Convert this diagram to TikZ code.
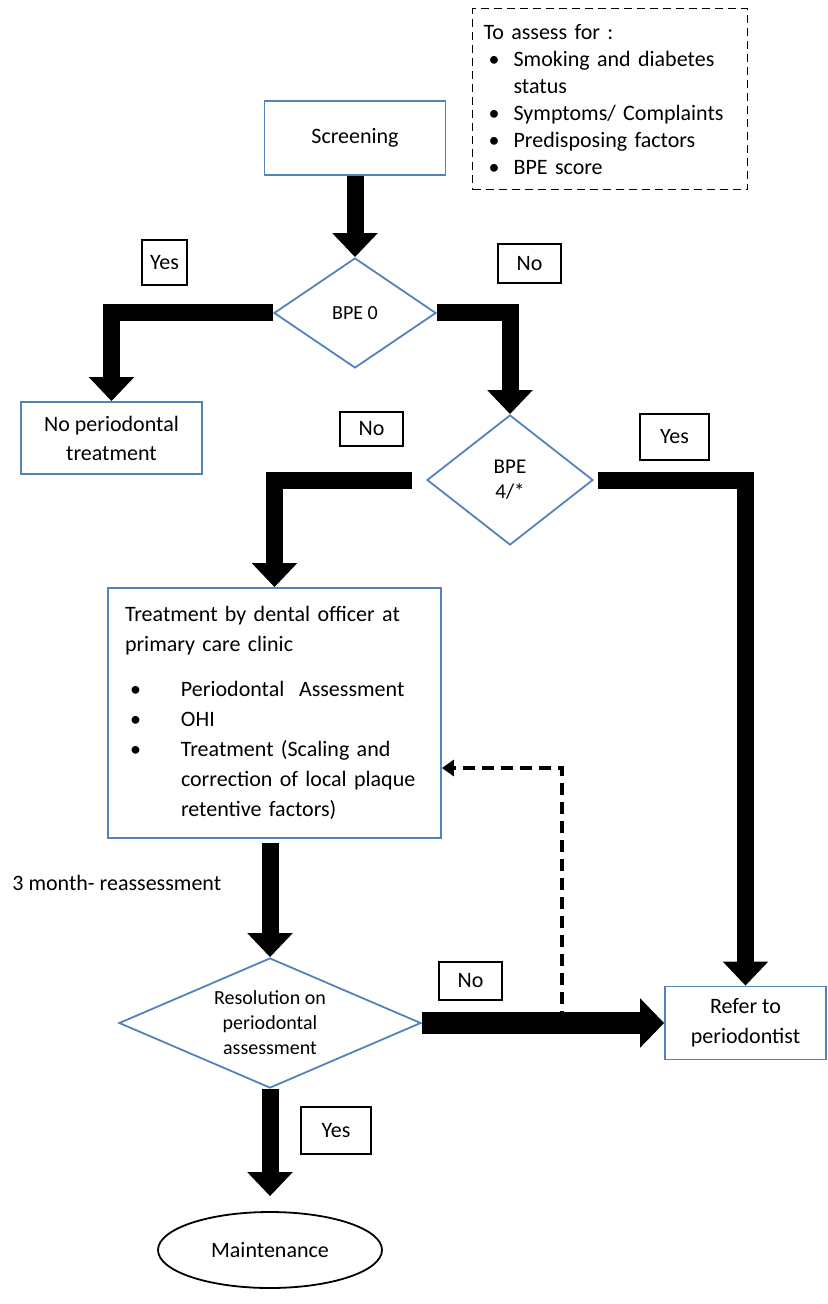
\documentclass[tikz,border=0pt]{standalone}
\usepackage{fontspec}
\setmainfont{Carlito}
\usepackage{xcolor}
\usetikzlibrary{positioning, arrows.meta, shapes}
\definecolor{boxblue}{RGB}{84,130,186}

\newcommand{\tbul}{\makebox[28pt][l]{\hspace{2.5pt}\textbullet}}
\newcommand{\tgap}{\hspace*{28pt}}
\newcommand{\abul}{\makebox[15pt][l]{\hspace{2.5pt}\textbullet}}

\begin{document}
\begin{tikzpicture}[
    x=0.5pt, y=-0.5pt,
    box/.style={rectangle, draw=boxblue, line width=0.9pt, align=center, font=\fontsize{11}{14.5}\selectfont},
    ask/.style={diamond, draw=boxblue, line width=0.9pt, inner sep=0pt, align=center, font=\fontsize{10}{12.5}\selectfont},
    tag/.style={rectangle, draw, line width=1pt, inner sep=0pt, font=\fontsize{11}{13}\selectfont},
    flow/.style={line width=8.5pt, line join=miter, -{Triangle[length=12pt, width=22pt]}},
    back/.style={line width=2pt, dash pattern=on 6pt off 3.5pt, -{Triangle[length=6pt, width=8pt]}}
]
\useasboundingbox (0,0) rectangle (827,1304);

% checklist
\node[draw, dash pattern=on 4pt off 2.5pt, line width=0.6pt, anchor=north west,
      minimum width=137.5pt, minimum height=90.5pt, text width=126.5pt,
      inner xsep=5.5pt, align=left, font=\fontsize{11}{13.5}\selectfont] (assess) at (472,8)
  {To assess for :\\
   \abul Smoking and diabetes\\
   \hspace*{15pt}status\\
   \abul Symptoms/ Complaints\\
   \abul Predisposing factors\\
   \abul BPE score};

% main nodes
\node[box, minimum width=90.5pt, minimum height=37pt] (screen) at (355,138) {Screening};
\node[ask, minimum width=81pt, minimum height=55pt, aspect=1.47] (bpe0) at (355,313) {BPE 0};
\node[box, minimum width=90.5pt, minimum height=36pt] (nopt) at (111.5,438) {No periodontal\\treatment};
\node[ask, minimum width=83pt, minimum height=65pt, aspect=1.28, font=\fontsize{10.5}{12.5}\selectfont] (bpe4) at (510,480) {BPE\\4/*};
\node[box, minimum width=166.5pt, minimum height=125pt, text width=149.5pt, inner xsep=8.5pt,
      align=left, font=\fontsize{11}{15}\selectfont] (treat) at (274.5,713)
  {Treatment by dental officer at\\
   primary care clinic\\[7.5pt]
   \tbul Periodontal\ \ Assessment\\
   \tbul OHI\\
   \tbul Treatment (Scaling and\\
   \tgap correction of local plaque\\
   \tgap retentive factors)};
\node[ask, minimum width=151pt, minimum height=65pt, aspect=2.32] (res) at (270,1023) {Resolution on\\periodontal\\assessment};
\node[box, minimum width=80.5pt, minimum height=36.5pt, font=\fontsize{11}{15}\selectfont] (refer) at (745.5,1023) {Refer to\\periodontist};
\node[ellipse, draw, line width=0.9pt, minimum width=112pt, minimum height=38pt,
      font=\fontsize{11}{13}\selectfont] (maint) at (270,1250) {Maintenance};

\node[anchor=west, inner sep=0pt, font=\fontsize{11}{13}\selectfont] (reass) at (12,883) {3 month- reassessment};

% yes / no tags
\node[tag, minimum width=22.5pt, minimum height=22.5pt] (yes1) at (164.5,262.5) {Yes};
\node[tag, minimum width=31.5pt, minimum height=19.5pt] (no1) at (529.5,263.5) {No};
\node[tag, minimum width=31.5pt, minimum height=17pt] (no2) at (371.5,429) {No};
\node[tag, minimum width=34.5pt, minimum height=23pt] (yes2) at (674.5,437) {Yes};
\node[tag, minimum width=31.5pt, minimum height=19pt] (no3) at (470.5,981) {No};
\node[tag, minimum width=35pt, minimum height=23.5pt] (yes3) at (336,1130.5) {Yes};

% connectors
\draw[flow] (screen) -- (bpe0);
\draw[flow] (bpe0.west) -| (nopt.north);
\draw[flow] (bpe0.east) -| (bpe4.north);
\draw[flow] ([xshift=-7pt]bpe4.west) -| (treat.north);
\draw[flow] ([xshift=2pt]bpe4.east) -| (refer.north);
\draw[flow, shorten <=2pt] (treat.south -| res.north) -- (res.north);

\path (res.east) -- (refer.west) coordinate[pos=0.58] (fb);
\path (fb) ++(0,-255) coordinate (turn);
\draw[back] (fb) -- (turn) -- (treat.east |- turn);

\draw[flow, line width=11pt, -{Triangle[length=12pt, width=24pt]}] (res.east) -- (refer.west);
\draw[flow, shorten >=7.5pt] (res.south) -- (maint.north);
\end{tikzpicture}
\end{document}
